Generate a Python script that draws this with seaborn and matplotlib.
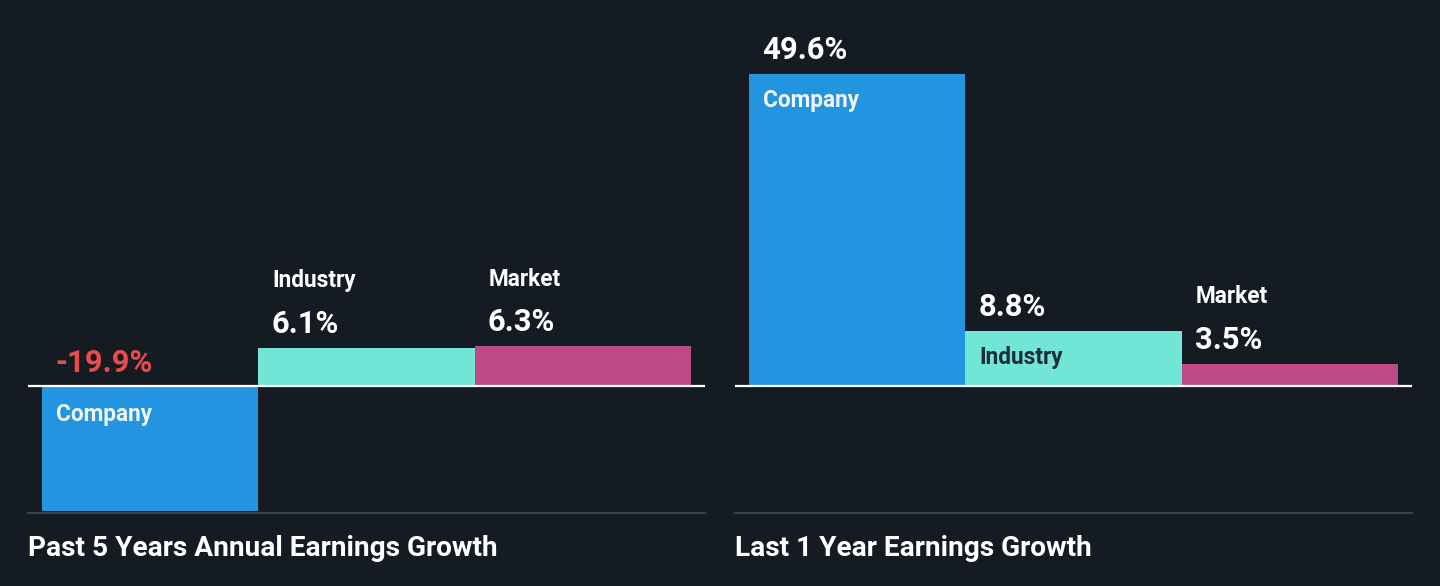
import matplotlib
matplotlib.use("Agg")
import matplotlib.pyplot as plt
import seaborn as sns

sns.set_theme(style="dark")
plt.rcParams['font.family'] = ['Roboto', 'DejaVu Sans']

categories = ["Company", "Industry", "Market"]
past5_values = [-19.9, 6.1, 6.3]
last1_values = [49.6, 8.8, 3.5]
past5_labels = ["-19.9%", "6.1%", "6.3%"]
last1_labels = ["49.6%", "8.8%", "3.5%"]
titles = ["Past 5 Years Annual Earnings Growth", "Last 1 Year Earnings Growth"]
# whether the category label sits inside the bar
past5_inside = [True, False, False]
last1_inside = [True, True, False]

BG = "#151b23"
palette = {"Company": "#2394df", "Industry": "#71e6d6", "Market": "#bb4a86"}
inside_text = {"Company": "#f2f5f8", "Industry": "#1e2e36", "Market": "#f2f5f8"}
RED = "#e84c4c"
W, H = 1440, 586
DPI = 100
fig = plt.figure(figsize=(W / DPI, H / DPI), dpi=DPI, facecolor=BG)

scale = 6.3  # px per percent
base_px = 386
bottom_px = 513
ylim = (-(bottom_px - base_px) / scale, base_px / scale)
pad = 14 / 216.7
VFS = 22.3
CFS = 16.3

panels = [
    (28, past5_values, past5_labels, past5_inside, titles[0]),
    (735, last1_values, last1_labels, last1_inside, titles[1]),
]
for left_px, vals, labs, inside, title in panels:
    ax = fig.add_axes([left_px / W, 1 - bottom_px / H, 677 / W, bottom_px / H])
    ax.set_facecolor(BG)
    sns.barplot(x=categories, y=vals, hue=categories, palette=palette, width=1.0,
                ax=ax, legend=False, saturation=1, linewidth=0)
    ax.set_xlim(-0.5 - pad, 2.5 + pad)
    ax.set_ylim(*ylim)
    ax.axhline(0, color="white", lw=1.6, zorder=5)
    for s in ["top", "left", "right"]:
        ax.spines[s].set_visible(False)
    ax.spines["bottom"].set_color("#3a414b")
    ax.spines["bottom"].set_linewidth(1.5)
    ax.set_xticks([])
    ax.set_yticks([])
    ax.set_xlabel("")
    ax.set_ylabel("")
    ax.grid(False)
    for i, (v, lab, ins) in enumerate(zip(vals, labs, inside)):
        xl = i - 0.5
        vcol = RED if v < 0 else "white"
        cat = categories[i]
        if v < 0:
            ax.annotate(lab, (xl, 0), xytext=(13, 23), textcoords="offset pixels",
                        ha="left", va="center", color=vcol, fontsize=VFS, fontweight="bold")
            ax.annotate(cat, (xl, 0), xytext=(14, -28), textcoords="offset pixels",
                        ha="left", va="center", color=inside_text[cat], fontsize=CFS, fontweight="bold")
        elif ins:
            ax.annotate(lab, (xl, v), xytext=(13, 24), textcoords="offset pixels",
                        ha="left", va="center", color=vcol, fontsize=VFS, fontweight="bold")
            ax.annotate(cat, (xl, v), xytext=(14, -27), textcoords="offset pixels",
                        ha="left", va="center", color=inside_text[cat], fontsize=CFS, fontweight="bold")
        else:
            ax.annotate(lab, (xl, v), xytext=(13, 24), textcoords="offset pixels",
                        ha="left", va="center", color=vcol, fontsize=VFS, fontweight="bold")
            ax.annotate(cat, (xl, v), xytext=(14, 67), textcoords="offset pixels",
                        ha="left", va="center", color="white", fontsize=CFS, fontweight="bold")
    fig.text(left_px / W, 1 - 549 / H, title, ha="left", va="center", color="white",
             fontsize=20.2, fontweight="bold")

fig.savefig("out.png", dpi=DPI, facecolor=BG)
